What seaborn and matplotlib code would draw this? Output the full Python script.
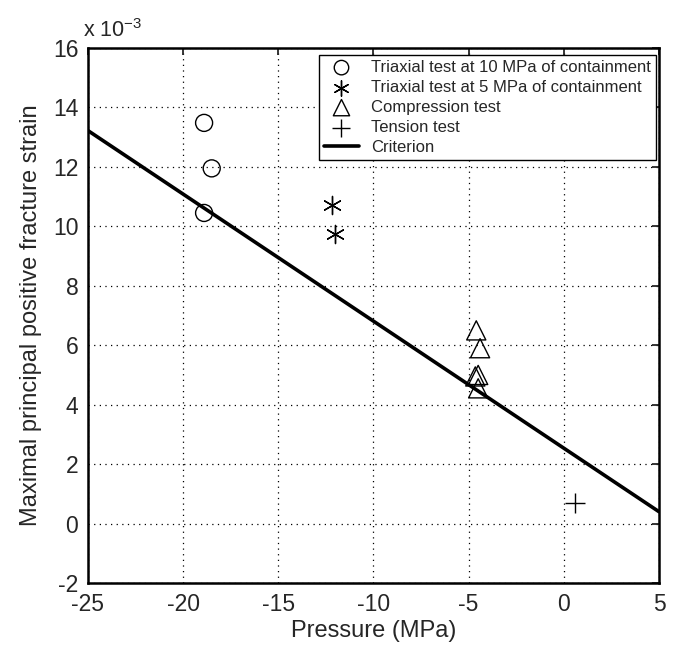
import numpy as np
import pandas as pd
import seaborn as sns
import matplotlib.pyplot as plt
from matplotlib.ticker import FuncFormatter

# values (strain in units of 1e-3)
tri10_p = [-18.9, -18.5, -18.9]
tri10_e = [13.48, 11.95, 10.45]
tri5_p = [-12.2, -12.0]
tri5_e = [10.72, 9.74]
comp_p = [-4.6, -4.4, -4.5, -4.65, -4.5]
comp_e = [6.5, 5.9, 5.0, 4.95, 4.55]
tens_p = [0.6]
tens_e = [0.7]
crit_p = [-25, 5]
crit_e = [13.22, 0.4]

labels = ["Triaxial test at 10 MPa of containment",
          "Triaxial test at 5 MPa of containment",
          "Compression test",
          "Tension test",
          "Criterion"]

sns.set_style("white")
plt.rcParams['font.family'] = ['Liberation Sans', 'DejaVu Sans']
plt.rcParams['axes.unicode_minus'] = False
plt.rcParams['mathtext.fontset'] = 'custom'
plt.rcParams['mathtext.rm'] = 'Liberation Sans'
plt.rcParams['mathtext.default'] = 'regular'

fig = plt.figure(figsize=(6.79, 6.52), dpi=100)
ax = fig.add_axes([0.1296, 0.1058, 0.8409, 0.8206])

sc = 1e-3
sns.scatterplot(x=tri10_p, y=np.array(tri10_e) * sc, marker="o", s=150,
                facecolor="none", edgecolor="black", linewidth=1.0,
                label=labels[0], ax=ax, zorder=3)
sns.scatterplot(x=tri5_p, y=np.array(tri5_e) * sc, marker=(6, 2, 0), s=170,
                color="black", linewidth=1.0, label=labels[1], ax=ax, zorder=3)
sns.scatterplot(x=comp_p, y=np.array(comp_e) * sc, marker="^", s=190,
                facecolor="none", edgecolor="black", linewidth=1.0,
                label=labels[2], ax=ax, zorder=3)
sns.scatterplot(x=tens_p, y=np.array(tens_e) * sc, marker="+", s=220,
                color="black", linewidth=1.0, label=labels[3], ax=ax, zorder=3)
sns.lineplot(x=crit_p, y=np.array(crit_e) * sc, color="black", linewidth=2.6,
             label=labels[4], ax=ax, zorder=2)

ax.set_xlim(-25, 5)
ax.set_ylim(-2e-3, 16e-3)
ax.set_xticks(np.arange(-25, 6, 5))
ax.set_yticks(np.arange(-2, 17, 2) * sc)
ax.yaxis.set_major_formatter(FuncFormatter(lambda v, p: "%d" % round(v / sc)))
ax.grid(True, color="black", linestyle=(0, (1, 3.5)), linewidth=0.9)
ax.tick_params(direction="in", length=5, width=1.3, labelsize=16.5,
               top=True, right=True, pad=7)
for s in ax.spines.values():
    s.set_color("black")
    s.set_linewidth(1.8)

ax.set_xlabel("Pressure (MPa)", fontsize=17, labelpad=3)
ax.set_ylabel("Maximal principal positive fracture strain", fontsize=17,
              labelpad=8)
ax.text(-0.008, 1.012, "x 10$^{-3}$", transform=ax.transAxes, fontsize=15.5,
        ha="left", va="bottom")

leg = ax.legend(loc="upper right", bbox_to_anchor=(0.9947, 0.9869),
                fontsize=12, frameon=True, fancybox=False, framealpha=1,
                edgecolor="black", borderaxespad=0, handlelength=2.15,
                labelspacing=0.3, borderpad=0.3, handletextpad=0.7,
                markerscale=0.85)
leg.get_frame().set_linewidth(1.0)

fig.savefig("out.png", dpi=100)
